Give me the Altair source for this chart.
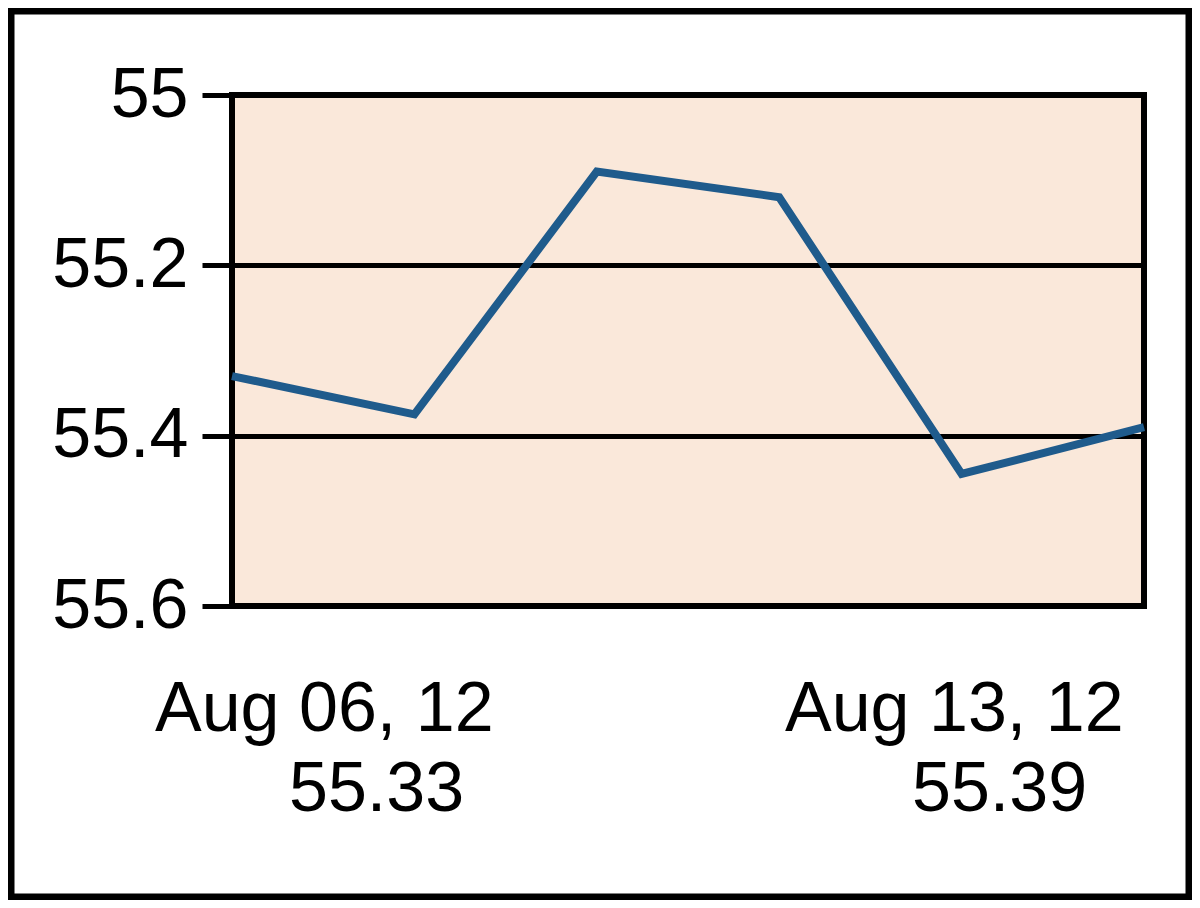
import altair as alt
import pandas as pd

dates = ["2012-08-06", "2012-08-07", "2012-08-08", "2012-08-09", "2012-08-10", "2012-08-13"]
values = [55.33, 55.375, 55.09, 55.12, 55.445, 55.39]
y_ticks = [55.0, 55.2, 55.4, 55.6]
first_label = "Aug 06, 12"
last_label = "Aug 13, 12"

df = pd.DataFrame({"date": dates, "value": values})

W, H = 912, 511
PL, PT = 224, 87
CW, CH = 1184, 892
FONT = "Liberation Sans"
FS = 70

x_enc = alt.X("date:O", axis=None, scale=alt.Scale(type="point", padding=0))

line = alt.Chart(df).mark_line(color="#1F5B8C", strokeWidth=8, clip=False).encode(
    x=x_enc,
    y=alt.Y("value:Q",
            scale=alt.Scale(domain=[55.0, 55.6], reverse=True, nice=False, zero=False),
            axis=alt.Axis(values=y_ticks, format=".1~f", title=None, grid=True,
                          gridColor="black", gridWidth=5, domain=False,
                          tickColor="black", tickWidth=5, tickSize=30,
                          labelFont=FONT, labelFontSize=FS, labelColor="black",
                          labelPadding=14)),
)

def label(text, xpos, ypos):
    return alt.Chart(pd.DataFrame({"t": [text]})).mark_text(
        font=FONT, fontSize=FS, color="black", align="left", baseline="alphabetic"
    ).encode(text="t:N", x=alt.value(xpos), y=alt.value(ypos))

frame = alt.Chart(pd.DataFrame({"a": [0]})).mark_rect(
    fill=None, stroke="black", strokeWidth=7, clip=False
).encode(
    x=alt.value(-PL + 3), x2=alt.value(CW - PL - 3),
    y=alt.value(-PT + 3), y2=alt.value(CH - PT - 3),
)

chart = alt.layer(
    line,
    label(first_label, -77, 636),
    label(f"{values[0]:.2f}", 57, 716),
    label(last_label, 553, 636),
    label(f"{values[-1]:.2f}", 680, 716),
    frame,
).properties(
    width=W, height=H,
    autosize=alt.AutoSizeParams(type="none"),
    padding={"left": PL, "top": PT, "right": CW - PL - W, "bottom": CH - PT - H},
    background="white",
).configure_view(
    fill="#FAE8DA", stroke="black", strokeWidth=6
)

chart.save("out.html", embed_options={"renderer": "svg", "actions": False})
